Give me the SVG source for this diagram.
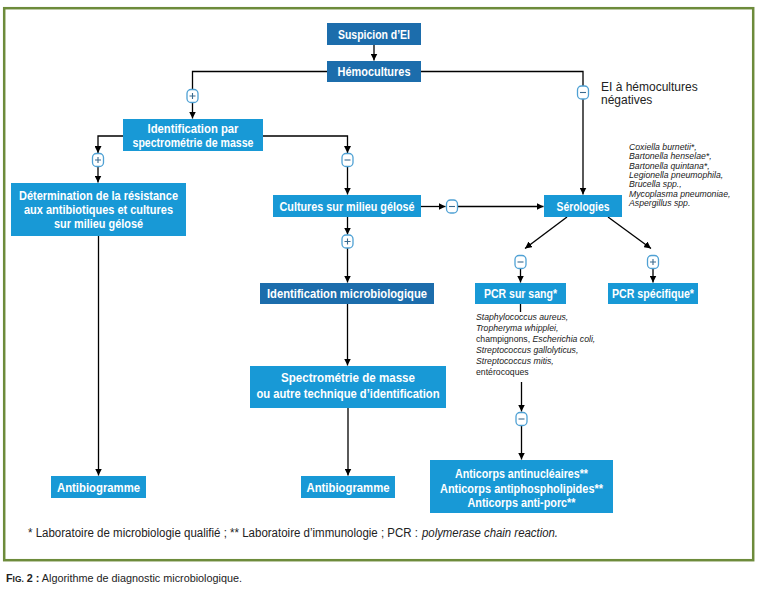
<svg xmlns="http://www.w3.org/2000/svg" width="760" height="591" viewBox="0 0 760 591">
<defs>
<style>
.dk{fill:#1c6dac}
.lt{fill:#1899d6}
.lb{font-family:"Liberation Sans",Arial,sans-serif;font-weight:bold;font-size:12.5px;fill:#fff;text-anchor:middle}
.tx{font-family:"Liberation Sans",Arial,sans-serif;fill:#222}
.sp{font-family:"Liberation Sans",Arial,sans-serif;font-size:8.7px;font-style:italic;fill:#222}
.up{font-style:normal}
.ln{fill:none;stroke:#000;stroke-width:1.3}
.ar{marker-end:url(#ah)}
.ic{fill:#fff;stroke:#4fa1d4;stroke-width:1.3}
.sy{stroke:#3a6a8e;stroke-width:1.1;fill:none}
</style>
<marker id="ah" viewBox="0 0 7 7" refX="7" refY="3.5" markerWidth="7" markerHeight="7" markerUnits="userSpaceOnUse" orient="auto">
<path d="M0,0 L7,3.5 L0,7 z" fill="#000"/>
</marker>
<g id="plus"><rect class="ic" x="-5.5" y="-6.5" width="11" height="13" rx="4"/><path class="sy" d="M-3,0 H3 M0,-3 V3"/></g>
<g id="minus"><rect class="ic" x="-5.5" y="-6.5" width="11" height="13" rx="4"/><path class="sy" d="M-3,0 H3"/></g>
</defs>
<rect x="0" y="0" width="760" height="591" fill="#fff"/>
<rect x="4.2" y="8.2" width="749" height="552" fill="#fff" stroke="#6d8b3b" stroke-width="2.5"/>

<g id="connectors">
<path class="ln ar" d="M374,45 V60.5"/>
<path class="ln ar" d="M327,71.5 H192.5 V118.5"/>
<path class="ln ar" d="M421,71.5 H583 V194.5"/>
<path class="ln ar" d="M123,136 H98 V153"/>
<path class="ln ar" d="M98,166.5 V182.5"/>
<path class="ln ar" d="M263,136 H347.5 V153"/>
<path class="ln ar" d="M347.5,166.5 V194.5"/>
<path class="ln ar" d="M421,206.5 H445.5"/>
<path class="ln ar" d="M458,206.5 H543.5"/>
<path class="ln ar" d="M347.5,217 V234.5"/>
<path class="ln ar" d="M347.5,248 V282.5"/>
<path class="ln ar" d="M347.5,304 V365.5"/>
<path class="ln ar" d="M348,408 V475.5"/>
<path class="ln ar" d="M98.5,236 V475.5"/>
<path class="ln ar" d="M567,217 L525,248.5"/>
<path class="ln ar" d="M608,217 L651,248.5"/>
<path class="ln ar" d="M520.5,268.5 V282.5"/>
<path class="ln ar" d="M653,268.5 V282.5"/>
<path class="ln" d="M520.5,304 V312"/>
<path class="ln ar" d="M521.5,382 V411.5"/>
<path class="ln ar" d="M521.5,425.5 V459.5"/>
</g>

<g id="icons">
<use href="#plus" x="192.5" y="96"/>
<use href="#minus" x="583" y="92.5"/>
<use href="#plus" x="98" y="160"/>
<use href="#minus" x="347.5" y="160"/>
<use href="#minus" x="452" y="206.5"/>
<use href="#plus" x="347.5" y="241.5"/>
<use href="#minus" x="520.5" y="262"/>
<use href="#plus" x="653" y="262"/>
<use href="#minus" x="521.5" y="419"/>
</g>

<g id="n-suspicion"><rect class="dk" x="327" y="23" width="94" height="22"/><text class="lb" x="374" y="38.5" textLength="72" lengthAdjust="spacingAndGlyphs">Suspicion d’EI</text></g>
<g id="n-hemocultures"><rect class="dk" x="327" y="61" width="94" height="21"/><text class="lb" x="374" y="76" textLength="73" lengthAdjust="spacingAndGlyphs">Hémocultures</text></g>
<g id="n-ei-neg"><text class="tx" x="601" y="90.5" font-size="12">EI à hémocultures</text><text class="tx" x="601" y="103.5" font-size="12">négatives</text></g>
<g id="n-identification"><rect class="lt" x="123" y="119" width="140" height="32"/><text class="lb" x="193" y="132.5" textLength="91" lengthAdjust="spacingAndGlyphs">Identification par</text><text class="lb" x="193" y="147" textLength="121" lengthAdjust="spacingAndGlyphs">spectrométrie de masse</text></g>
<g id="n-determination"><rect class="lt" x="11" y="183" width="175" height="53"/><text class="lb" x="98.5" y="199.5" textLength="159" lengthAdjust="spacingAndGlyphs">Détermination de la résistance</text><text class="lb" x="98.5" y="213.5" textLength="149" lengthAdjust="spacingAndGlyphs">aux antibiotiques et cultures</text><text class="lb" x="98.5" y="227.5" textLength="89" lengthAdjust="spacingAndGlyphs">sur milieu gélosé</text></g>
<g id="n-cultures"><rect class="lt" x="273" y="195" width="148" height="22"/><text class="lb" x="347" y="210.5" textLength="135" lengthAdjust="spacingAndGlyphs">Cultures sur milieu gélosé</text></g>
<g id="n-serologies"><rect class="lt" x="544" y="195" width="78" height="22"/><text class="lb" x="583" y="210.5" textLength="53" lengthAdjust="spacingAndGlyphs">Sérologies</text></g>
<g id="n-sero-list"><text class="sp" x="629" y="150">Coxiella burnetii*,</text><text class="sp" x="629" y="159.3">Bartonella henselae*,</text><text class="sp" x="629" y="168.6">Bartonella quintana*,</text><text class="sp" x="629" y="177.9">Legionella pneumophila,</text><text class="sp" x="629" y="187.2">Brucella spp.,</text><text class="sp" x="629" y="196.5">Mycoplasma pneumoniae,</text><text class="sp" x="629" y="205.8">Aspergillus spp.</text></g>
<g id="n-idmicro"><rect class="dk" x="260" y="283" width="174" height="21"/><text class="lb" x="347" y="298" textLength="160" lengthAdjust="spacingAndGlyphs">Identification microbiologique</text></g>
<g id="n-pcr-sang"><rect class="lt" x="475" y="283" width="91" height="21"/><text class="lb" x="520.5" y="298" textLength="73" lengthAdjust="spacingAndGlyphs">PCR sur sang*</text></g>
<g id="n-pcr-spec"><rect class="lt" x="608" y="283" width="90" height="21"/><text class="lb" x="653" y="298" textLength="82" lengthAdjust="spacingAndGlyphs">PCR spécifique*</text></g>
<g id="n-pcr-list"><text class="sp" x="476" y="320">Staphylococcus aureus,</text><text class="sp" x="476" y="331">Tropheryma whipplei,</text><text class="sp" x="476" y="342"><tspan class="up">champignons, </tspan>Escherichia coli,</text><text class="sp" x="476" y="353">Streptococcus gallolyticus,</text><text class="sp" x="476" y="364">Streptococcus mitis,</text><text class="sp" x="476" y="375"><tspan class="up">entérocoques</tspan></text></g>
<g id="n-spectro"><rect class="lt" x="250" y="366" width="196" height="42"/><text class="lb" x="348" y="382" textLength="134" lengthAdjust="spacingAndGlyphs">Spectrométrie de masse</text><text class="lb" x="348" y="397.5" textLength="183" lengthAdjust="spacingAndGlyphs">ou autre technique d’identification</text></g>
<g id="n-antibio1"><rect class="lt" x="51" y="476" width="95" height="22"/><text class="lb" x="98.5" y="491.5" textLength="83" lengthAdjust="spacingAndGlyphs">Antibiogramme</text></g>
<g id="n-antibio2"><rect class="lt" x="301" y="476" width="94" height="22"/><text class="lb" x="348" y="491.5" textLength="83" lengthAdjust="spacingAndGlyphs">Antibiogramme</text></g>
<g id="n-anticorps"><rect class="lt" x="430" y="460" width="183" height="53"/><text class="lb" x="521.5" y="478" textLength="133" lengthAdjust="spacingAndGlyphs">Anticorps antinucléaires**</text><text class="lb" x="521.5" y="492.5" textLength="163" lengthAdjust="spacingAndGlyphs">Anticorps antiphospholipides**</text><text class="lb" x="521.5" y="507" textLength="108" lengthAdjust="spacingAndGlyphs">Anticorps anti-porc**</text></g>

<text class="tx" x="28" y="537" font-size="12" textLength="390" lengthAdjust="spacingAndGlyphs">* Laboratoire de microbiologie qualifié ; ** Laboratoire d’immunologie ; PCR :</text>
<text class="tx" x="422" y="537" font-size="12" font-style="italic" textLength="136" lengthAdjust="spacingAndGlyphs">polymerase chain reaction.</text>
<text class="tx" x="6" y="582" font-size="11" textLength="236" lengthAdjust="spacingAndGlyphs"><tspan font-weight="bold">F</tspan><tspan font-weight="bold" font-size="8.5">IG.</tspan><tspan font-weight="bold"> 2 :</tspan> Algorithme de diagnostic microbiologique.</text>
</svg>
